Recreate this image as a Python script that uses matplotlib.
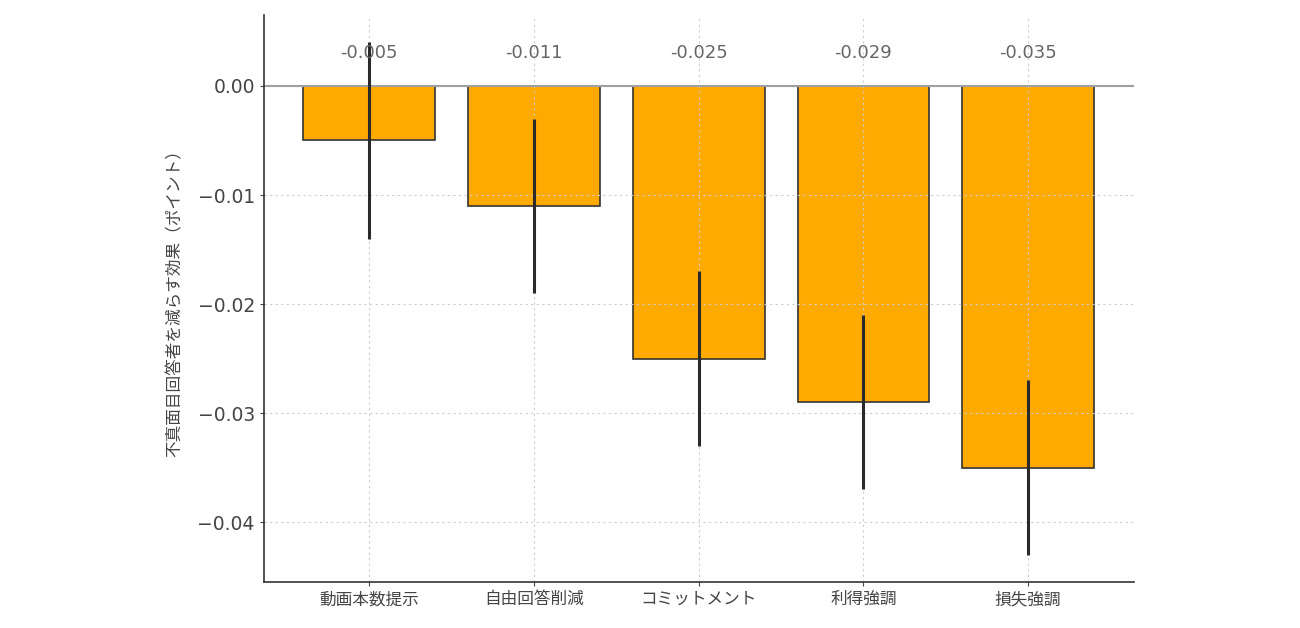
import matplotlib
matplotlib.use("Agg")
import matplotlib.pyplot as plt

plt.rcParams['font.family'] = ['Noto Sans CJK JP', 'DejaVu Sans']

# 施策ごとの効果と誤差
categories = ["動画本数提示", "自由回答削減", "コミットメント", "利得強調", "損失強調"]
effects = [-0.005, -0.011, -0.025, -0.029, -0.035]
errors = [0.009, 0.008, 0.008, 0.008, 0.008]
value_labels = ["-0.005", "-0.011", "-0.025", "-0.029", "-0.035"]
label_y = 0.003

fig = plt.figure(figsize=(13, 6.28), dpi=100)
ax = fig.add_axes([0.203, 0.073, 0.669, 0.903])

x = range(len(categories))
ax.bar(x, effects, width=0.8, color="#FFAA00", edgecolor="#333333", linewidth=1.2)
ax.errorbar(x, effects, yerr=errors, fmt="none", ecolor="#2a2a2a", elinewidth=2.2, capsize=0, zorder=3)
ax.axhline(0, color="#a0a0a0", linewidth=1.5, zorder=1.6)

for xi, txt in zip(x, value_labels):
    ax.text(xi, label_y, txt, ha="center", va="center", fontsize=13, color="#666666",
            family="DejaVu Sans")

ax.set_xticks(list(x))
ax.set_xticklabels(categories, fontsize=12, color="#444444")
ax.set_ylim(-0.0455, 0.0065)
ax.set_yticks([0.0, -0.01, -0.02, -0.03, -0.04])
ax.set_yticklabels(["0.00", "\u22120.01", "\u22120.02", "\u22120.03", "\u22120.04"],
                   fontsize=13.5, color="#444444", family="DejaVu Sans")
ax.set_ylabel("不真面目回答者を減らす効果（ポイント）", fontsize=12, color="#444444", labelpad=10)

ax.grid(True, linestyle=(0, (2, 3)), color="#cccccc", linewidth=0.8)
ax.spines["top"].set_visible(False)
ax.spines["right"].set_visible(False)
for s in ("left", "bottom"):
    ax.spines[s].set_color("#333333")
    ax.spines[s].set_linewidth(1.2)
ax.tick_params(colors="#444444", length=3)

fig.savefig("out.png", dpi=100)
